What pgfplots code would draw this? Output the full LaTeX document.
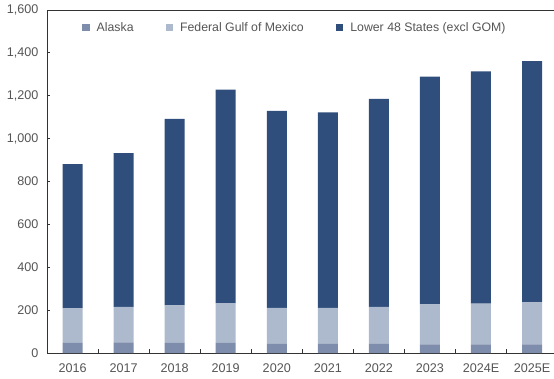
\documentclass[border=0pt]{standalone}
\usepackage{pgfplots}
\pgfplotsset{compat=1.18}
\usepackage{fontspec}
\setmainfont{Liberation Sans}
\definecolor{ak}{HTML}{7E8DAB}
\definecolor{gom}{HTML}{ADB9CC}
\definecolor{low}{HTML}{2F4E7C}
\definecolor{txt}{HTML}{555555}
\definecolor{axc}{HTML}{333333}
\pgfplotsset{sq/.style={legend image code/.code={\fill[##1] (0pt,-3.6pt) rectangle (7.5pt,3.9pt);}}}
\begin{document}
\begin{tikzpicture}
\begin{axis}[
  scale only axis, width=507pt, height=343pt,
  ybar stacked, bar width=20pt,
  xmin=-0.5, xmax=9.43, ymin=0, ymax=1600,
  clip=false,
  axis line style={draw=none},
  tick pos=left,
  xtick={0,...,9},
  xticklabels={2016,2017,2018,2019,2020,2021,2022,2023,2024E,2025E},
  major x tick style={draw=none},
  extra x ticks={0.5,1.5,...,8.5},
  extra x tick labels={},
  extra x tick style={major tick length=4pt, major x tick style={draw=axc, line width=0.9pt}},
  ytick={0,200,...,1600},
  major tick length=3pt,
  y tick style={draw=axc, line width=0.9pt},
  /pgf/number format/assume math mode=true,
  /pgf/number format/1000 sep={,},
  ticklabel style={text=txt, font=\fontsize{12.6}{14}\selectfont},
  yticklabel style={xshift=-5pt},
  xticklabel style={yshift=-7pt},
  legend columns=3,
  legend style={at={(rel axis cs:0,1)}, anchor=north west, xshift=32pt, yshift=-8pt,
    draw=none, fill=none, text=txt, font=\fontsize{12.3}{14}\selectfont,
    /tikz/every odd column/.append style={column sep=5pt},
    /tikz/every even column/.append style={column sep=30pt}},
]
\addplot[fill=ak, draw=none, sq] coordinates {(0,47) (1,50) (2,47) (3,47) (4,43) (5,43) (6,43) (7,40) (8,40) (9,40)};
\addplot[fill=gom, draw=none, sq] coordinates {(0,161) (1,165) (2,175) (3,186) (4,168) (5,168) (6,172) (7,187) (8,190) (9,196)};
\addplot[fill=low, draw=none, sq] coordinates {(0,673) (1,717) (2,870) (3,995) (4,918) (5,912) (6,971) (7,1062) (8,1084) (9,1125)};
\legend{Alaska, Federal Gulf of Mexico, Lower 48 States (excl GOM)}
\draw[axc, line width=0.9pt] (rel axis cs:0,1) -- (rel axis cs:0,0) -- (rel axis cs:1,0);
\draw[axc, line width=0.9pt] (rel axis cs:0,1) -- (rel axis cs:1,1);
\coordinate (bl) at (rel axis cs:0,0);
\coordinate (tr) at (rel axis cs:1,1);
\end{axis}
\pgfresetboundingbox
\path[use as bounding box] ([xshift=-47pt,yshift=-25pt]bl) rectangle ([yshift=10pt]tr);
\end{tikzpicture}
\end{document}
